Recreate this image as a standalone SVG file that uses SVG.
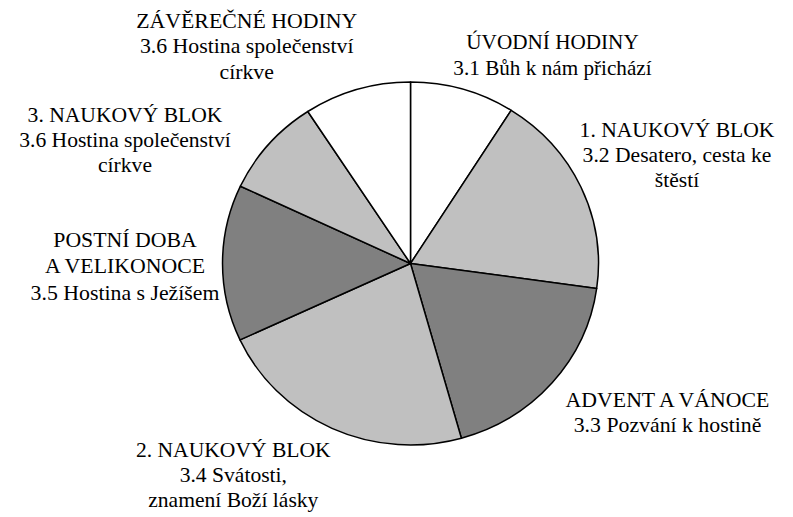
<svg xmlns="http://www.w3.org/2000/svg" width="793" height="517" viewBox="0 0 793 517">
<style>
.s{stroke:#000;stroke-width:1.5;stroke-linejoin:round}
.w{fill:#fff}.l{fill:#c0c0c0}.d{fill:#808080}
text{font-family:'Liberation Serif','Times New Roman',Times,serif;font-size:20px;fill:#000;text-anchor:middle}
</style>
<rect width="793" height="517" fill="#fff"/>
<g id="slices">
<g id="s1"><path class="s w" d="M410.5,263.5 L410.5,82 A188,181.5 0 0 1 511.2,110.3 Z"/></g>
<g id="s2"><path class="s l" d="M410.5,263.5 L511.2,110.3 A188,181.5 0 0 1 596.7,288.4 Z"/></g>
<g id="s3"><path class="s d" d="M410.5,263.5 L596.7,288.4 A188,181.5 0 0 1 461.4,438.2 Z"/></g>
<g id="s4"><path class="s l" d="M410.5,263.5 L461.4,438.2 A188,181.5 0 0 1 240.0,339.9 Z"/></g>
<g id="s5"><path class="s d" d="M410.5,263.5 L240.0,339.9 A188,181.5 0 0 1 240.4,186.2 Z"/></g>
<g id="s6"><path class="s l" d="M410.5,263.5 L240.4,186.2 A188,181.5 0 0 1 307.8,111.5 Z"/></g>
<g id="s7"><path class="s w" d="M410.5,263.5 L307.8,111.5 A188,181.5 0 0 1 410.5,82 Z"/></g>
</g>
<g id="labels">
<g id="l1" transform="translate(552.5,0) scale(1.06,1)"><text x="0" y="49.3">ÚVODNÍ HODINY</text><text x="0" y="75">3.1 Bůh k nám přichází</text></g>
<g id="l2" transform="translate(677,0) scale(1.08,1)"><text x="0" y="136.7">1. NAUKOVÝ BLOK</text><text x="0" y="161.7">3.2 Desatero, cesta ke</text><text x="0" y="186.7">štěstí</text></g>
<g id="l3" transform="translate(667.5,0) scale(1.09,1)"><text x="0" y="406.7">ADVENT A VÁNOCE</text><text x="0" y="431.7">3.3 Pozvání k hostině</text></g>
<g id="l4" transform="translate(233.3,0) scale(1.08,1)"><text x="0" y="457.3">2. NAUKOVÝ BLOK</text><text x="0" y="482.3">3.4 Svátosti,</text><text x="0" y="507.3">znamení Boží lásky</text></g>
<g id="l5" transform="translate(125,0) scale(1.09,1)"><text x="0" y="246.7">POSTNÍ DOBA</text><text x="0" y="273.3">A VELIKONOCE</text><text x="0" y="300">3.5 Hostina s Ježíšem</text></g>
<g id="l6" transform="translate(125,0) scale(1.08,1)"><text x="0" y="121.7">3. NAUKOVÝ BLOK</text><text x="0" y="146.7">3.6 Hostina společenství</text><text x="0" y="172.3">církve</text></g>
<g id="l7" transform="translate(246.7,0) scale(1.09,1)"><text x="0" y="28.3">ZÁVĚREČNÉ HODINY</text><text x="0" y="53.3">3.6 Hostina společenství</text><text x="0" y="79">církve</text></g>
</g>
</svg>
